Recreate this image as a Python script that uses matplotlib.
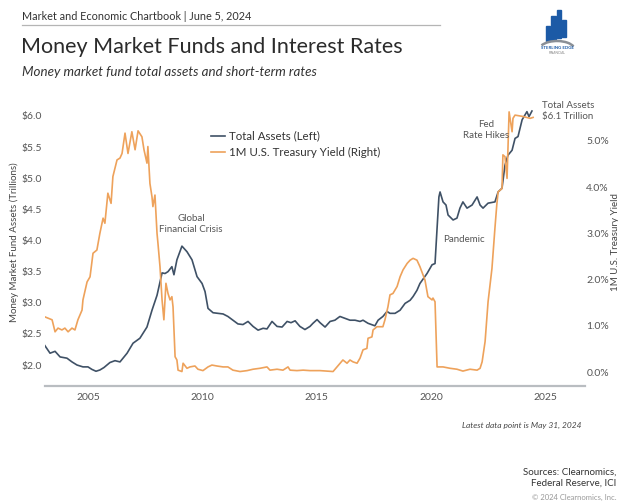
import matplotlib
matplotlib.use("Agg")
import matplotlib.pyplot as plt
from matplotlib.patches import Rectangle, Arc

# --- Data ---
assets_year = [2003.08, 2003.34, 2003.56, 2003.78, 2004.08, 2004.30, 2004.52, 2004.78, 2005.00, 2005.17,
               2005.35, 2005.52, 2005.70, 2005.96, 2006.18, 2006.40, 2006.71, 2006.97, 2007.27, 2007.58,
               2007.80, 2008.02, 2008.24, 2008.37, 2008.50, 2008.67, 2008.76, 2008.89, 2009.11, 2009.33,
               2009.55, 2009.77, 2009.99, 2010.12, 2010.25, 2010.47, 2010.69, 2010.91, 2011.12, 2011.34,
               2011.56, 2011.78, 2012.00, 2012.22, 2012.44, 2012.66, 2012.83, 2013.05, 2013.27, 2013.49,
               2013.71, 2013.88, 2014.06, 2014.27, 2014.49, 2014.71, 2014.84, 2015.02, 2015.15, 2015.37,
               2015.59, 2015.80, 2016.02, 2016.24, 2016.46, 2016.68, 2016.90, 2017.03, 2017.25, 2017.55,
               2017.69, 2017.90, 2018.08, 2018.21, 2018.43, 2018.65, 2018.87, 2019.09, 2019.22, 2019.39,
               2019.52, 2019.83, 2020.05, 2020.18, 2020.27, 2020.35, 2020.40, 2020.53, 2020.66, 2020.75,
               2020.97, 2021.14, 2021.27, 2021.40, 2021.58, 2021.80, 2022.02, 2022.15, 2022.28, 2022.50,
               2022.80, 2022.94, 2023.11, 2023.24, 2023.37, 2023.55, 2023.68, 2023.81, 2023.99, 2024.12,
               2024.20, 2024.29, 2024.42]
assets_tn = [2.33, 2.19, 2.22, 2.13, 2.11, 2.05, 2.00, 1.97, 1.97, 1.93,
             1.90, 1.92, 1.96, 2.04, 2.07, 2.05, 2.19, 2.35, 2.43, 2.61,
             2.88, 3.12, 3.48, 3.47, 3.50, 3.58, 3.45, 3.69, 3.91, 3.82,
             3.69, 3.42, 3.31, 3.18, 2.91, 2.84, 2.83, 2.82, 2.78, 2.72,
             2.66, 2.65, 2.70, 2.62, 2.56, 2.59, 2.58, 2.70, 2.62, 2.61,
             2.70, 2.68, 2.71, 2.62, 2.57, 2.62, 2.67, 2.73, 2.68, 2.61,
             2.70, 2.72, 2.78, 2.75, 2.72, 2.72, 2.70, 2.72, 2.67, 2.63,
             2.72, 2.78, 2.86, 2.83, 2.83, 2.88, 2.99, 3.04, 3.10, 3.20,
             3.31, 3.47, 3.61, 3.63, 4.20, 4.70, 4.78, 4.62, 4.57, 4.41,
             4.33, 4.36, 4.52, 4.62, 4.52, 4.57, 4.70, 4.57, 4.52, 4.60,
             4.62, 4.78, 4.84, 5.21, 5.37, 5.45, 5.64, 5.67, 5.94, 6.02,
             6.07, 5.99, 6.08]

yield_year = [2003.08, 2003.43, 2003.56, 2003.69, 2003.86, 2003.99, 2004.13, 2004.30, 2004.43, 2004.56,
              2004.74, 2004.78, 2004.96, 2005.09, 2005.22, 2005.39, 2005.52, 2005.66, 2005.74, 2005.87,
              2006.01, 2006.09, 2006.27, 2006.40, 2006.49, 2006.62, 2006.75, 2006.92, 2007.06, 2007.19,
              2007.36, 2007.45, 2007.58, 2007.62, 2007.71, 2007.80, 2007.84, 2007.93, 2008.02, 2008.06,
              2008.15, 2008.24, 2008.32, 2008.41, 2008.50, 2008.59, 2008.67, 2008.72, 2008.81, 2008.89,
              2008.94, 2009.11, 2009.16, 2009.33, 2009.46, 2009.68, 2009.81, 2010.03, 2010.25, 2010.42,
              2010.64, 2010.91, 2011.12, 2011.34, 2011.65, 2011.96, 2012.22, 2012.52, 2012.83, 2012.96,
              2013.27, 2013.53, 2013.75, 2013.84, 2014.14, 2014.41, 2014.71, 2015.15, 2015.72, 2015.89,
              2016.02, 2016.15, 2016.33, 2016.46, 2016.59, 2016.77, 2016.90, 2017.03, 2017.20, 2017.25,
              2017.42, 2017.47, 2017.64, 2017.90, 2017.99, 2018.12, 2018.21, 2018.34, 2018.52, 2018.65,
              2018.78, 2018.96, 2019.09, 2019.22, 2019.39, 2019.52, 2019.74, 2019.87, 2020.05, 2020.09,
              2020.18, 2020.27, 2020.53, 2020.84, 2021.14, 2021.40, 2021.71, 2022.02, 2022.15, 2022.24,
              2022.37, 2022.50, 2022.67, 2022.80, 2022.88, 2022.94, 2023.11, 2023.15, 2023.24, 2023.33,
              2023.42, 2023.55, 2023.59, 2023.68, 2024.03, 2024.34, 2024.47]
yield_pct = [1.20, 1.13, 0.87, 0.95, 0.91, 0.95, 0.87, 0.95, 0.91, 1.13,
             1.34, 1.56, 1.95, 2.06, 2.57, 2.64, 3.00, 3.33, 3.22, 3.87,
             3.65, 4.23, 4.59, 4.63, 4.73, 5.17, 4.73, 5.20, 4.81, 5.22,
             5.09, 4.81, 4.52, 4.88, 4.08, 3.79, 3.58, 3.83, 3.00, 2.79,
             2.28, 1.56, 1.13, 1.92, 1.70, 1.56, 1.63, 1.41, 0.33, 0.26,
             0.04, 0.01, 0.19, 0.08, 0.11, 0.13, 0.06, 0.03, 0.11, 0.15,
             0.13, 0.11, 0.11, 0.04, 0.01, 0.03, 0.06, 0.08, 0.11, 0.04,
             0.06, 0.04, 0.11, 0.04, 0.03, 0.04, 0.03, 0.03, 0.01, 0.11,
             0.19, 0.26, 0.19, 0.26, 0.22, 0.19, 0.30, 0.48, 0.51, 0.73,
             0.76, 0.91, 0.98, 0.98, 1.13, 1.41, 1.67, 1.70, 1.85, 2.06,
             2.21, 2.35, 2.42, 2.46, 2.42, 2.28, 1.99, 1.63, 1.56, 1.60,
             1.52, 0.11, 0.11, 0.08, 0.06, 0.02, 0.06, 0.04, 0.08, 0.22,
             0.66, 1.52, 2.24, 3.11, 3.61, 3.90, 3.97, 4.70, 4.66, 4.19,
             5.63, 5.20, 5.49, 5.56, 5.53, 5.49, 5.51]

year_ticks = [2005, 2010, 2015, 2020, 2025]
left_ticks = [2.0, 2.5, 3.0, 3.5, 4.0, 4.5, 5.0, 5.5, 6.0]
right_ticks = [0.0, 1.0, 2.0, 3.0, 4.0, 5.0]

# --- Style ---
W, H = 618, 501
FONT = "Lato"
plt.rcParams['font.family'] = [FONT, 'DejaVu Sans']
NAVY = "#3f5166"
ORANGE = "#eea25b"
TEXT = "#333333"
GREY = "#555555"


def px(x, y):
    """pixel position -> figure fraction"""
    return x / W, 1 - y / H


fig = plt.figure(figsize=(W / 100, H / 100), dpi=100)

# plot area in pixels: left 45, right 585, top 100, bottom 386
ax = fig.add_axes([45 / W, 1 - 386 / H, (585 - 45) / W, (386 - 100) / H])
ax2 = ax.twinx()

l1, = ax.plot(assets_year, assets_tn, color=NAVY, lw=1.2, label="Total Assets (Left)")
l2, = ax2.plot(yield_year, yield_pct, color=ORANGE, lw=1.2, label="1M U.S. Treasury Yield (Right)")

ax.set_xlim(2003.12, 2026.74)
ax.set_ylim(1.663, 6.257)
ax2.set_ylim(-0.303, 5.887)

ax.set_xticks(year_ticks)
ax.set_yticks(left_ticks)
ax.set_yticklabels([f"${v:.1f}" for v in left_ticks])
ax2.set_yticks(right_ticks)
ax2.set_yticklabels([f"{v:.1f}%" for v in right_ticks])

for a in (ax, ax2):
    for s in a.spines.values():
        s.set_visible(False)
    a.tick_params(length=0, labelsize=7.5, colors=GREY)
ax.spines['bottom'].set_visible(True)
ax.spines['bottom'].set_color("#b9bdc1")
ax.spines['bottom'].set_linewidth(1.6)
ax.tick_params(axis='x', pad=5)
ax.tick_params(axis='y', pad=2)
ax2.tick_params(axis='y', pad=1)

# axis titles
fig.text(*px(14, 242), "Money Market Fund Assets (Trillions)", rotation=90, ha="center", va="center",
         fontsize=7, color="#444444")
# right one is partly cut off by the figure edge, as in the original
fig.text(*px(611, 242), "1M U.S. Treasury Yield", rotation=90, ha="left", va="center",
         fontsize=7, color="#444444")

leg = ax.legend(handles=[l1, l2], loc="upper left", bbox_to_anchor=(px(205, 125)),
                bbox_transform=fig.transFigure, frameon=False, fontsize=8.3,
                handlelength=1.2, handletextpad=0.35, labelspacing=0.45, borderpad=0)
for t in leg.get_texts():
    t.set_color(TEXT)

# annotations
ann = dict(fontsize=7, color=GREY, linespacing=1.3)
fig.text(*px(191, 224), "Global\nFinancial Crisis", ha="center", va="center", **ann)
fig.text(*px(464, 240), "Pandemic", ha="center", va="center", **ann)
fig.text(*px(486, 130), "Fed\nRate Hikes", ha="center", va="center", **ann)
fig.text(*px(542, 111), "Total Assets\n$6.1 Trillion", ha="left", va="center", **ann)

# header
fig.text(*px(22, 16), "Market and Economic Chartbook | June 5, 2024", ha="left", va="center",
         fontsize=7.8, color=TEXT)
fig.add_artist(plt.Line2D([22 / W, 440 / W], [1 - 25 / H, 1 - 25 / H], color="#b5b5b5", lw=0.9))
fig.text(*px(21, 47), "Money Market Funds and Interest Rates", ha="left", va="center",
         fontsize=15.5, color="#2b2b2b")
fig.text(*px(22, 72), "Money market fund total assets and short-term rates", ha="left", va="center",
         fontsize=9.6, style="italic", color=TEXT)

# logo (simple drawing of bars and swoosh)
for (x0, y0, x1, y1) in [(546, 26, 550, 41), (551, 16, 556, 40), (557, 10, 561, 38), (562, 20, 566, 37)]:
    fx, fy = px(x0, y1)
    fig.add_artist(Rectangle((fx, fy), (x1 - x0) / W, (y1 - y0) / H, color="#1c5aa6",
                             transform=fig.transFigure))
fig.add_artist(Arc(px(557, 50), 36 / W, 18 / H, theta1=15, theta2=160, color="#8a8f96", lw=1.8,
                   transform=fig.transFigure))
fig.text(*px(557, 48), "STERLING EDGE", ha="center", va="center", fontsize=3.2, color="#1c5aa6",
         weight="bold")
fig.text(*px(557, 53), "FINANCIAL", ha="center", va="center", fontsize=2.4, color="#888888")

# footer
fig.text(*px(581, 425), "Latest data point is May 31, 2024", ha="right", va="center",
         fontsize=6, style="italic", color="#444444")
fig.text(*px(616, 478), "Sources: Clearnomics,\nFederal Reserve, ICI", ha="right", va="center",
         fontsize=7, color=TEXT, linespacing=1.3)
fig.text(*px(616, 497), "\u00a9 2024 Clearnomics, Inc.", ha="right", va="center",
         fontsize=5.5, color="#999999")

fig.savefig("out.png", dpi=100)
plt.close(fig)
